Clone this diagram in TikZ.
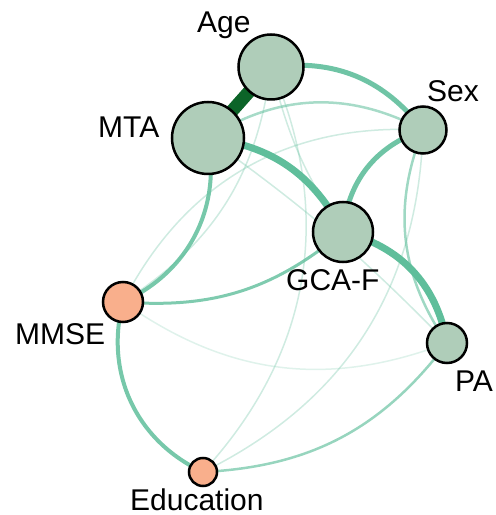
\documentclass[tikz,border=0pt]{standalone}
\usepackage{fontspec}
\setmainfont{Liberation Sans}
\usetikzlibrary{backgrounds}
\definecolor{edgeG}{RGB}{95,190,155}
\definecolor{darkG}{RGB}{12,100,40}
\definecolor{nodeG}{RGB}{175,205,185}
\definecolor{nodeO}{RGB}{249,175,140}
\tikzset{
  varnode/.style={circle, draw=black, line width=2.5pt, inner sep=0pt, fill=nodeG},
  ornode/.style={varnode, fill=nodeO},
  lbl/.style={anchor=base west, inner sep=0pt, font=\fontsize{30}{36}\selectfont},
  edge/.style={draw=edgeG, line cap=round},
  faint/.style={edge, line width=1.5pt, draw opacity=0.3},
}
\begin{document}
\begin{tikzpicture}[x=1pt, y=1pt]
\useasboundingbox (0,0) rectangle (496,515);
% nodes
\node[varnode, minimum size=65pt] (Age) at (271,448) {};
\node[varnode, minimum size=72pt] (MTA) at (208,377) {};
\node[varnode, minimum size=47pt] (Sex) at (423,385) {};
\node[varnode, minimum size=60pt] (GCAF) at (343,283) {};
\node[ornode, minimum size=40pt] (MMSE) at (123,213) {};
\node[varnode, minimum size=40pt] (PA) at (447,172) {};
\node[ornode, minimum size=28pt] (Educ) at (203,43) {};
% edges behind nodes
\begin{scope}[on background layer]
\path[faint] (Age.center) to[bend right=10] (GCAF.center);
\path[faint] (Age.center) to[bend left=25] (MMSE.center);
\path[faint] (Age.center) to[bend left=33] (Educ.center);
\path[faint] (Sex.center) to[bend left=31] (Educ.center);
\path[faint] (Sex.center) to[bend right=33] (MMSE.center);
\path[faint] (MTA.center) to[bend left=5] (PA.center);
\path[faint, draw opacity=0.2] (MMSE.center) to[bend right=28] (PA.center);
\path[edge, line width=2.5pt, draw opacity=0.55] (MTA.center) to[bend left=30] (Sex.center);
\path[edge, line width=2.5pt, draw opacity=0.6] (Sex.center) to[bend right=28] (PA.center);
\path[edge, line width=2.5pt, draw opacity=0.65] (Educ.center) to[bend right=25] (PA.center);
\path[edge, line width=3pt, draw opacity=0.8] (MMSE.center) to[bend right=22] (GCAF.center);
\path[edge, line width=4pt, draw opacity=0.85] (MTA.center) to[bend left=38] (MMSE.center);
\path[edge, line width=4pt, draw opacity=0.85] (MMSE.center) to[bend right=40] (Educ.center);
\path[edge, line width=5pt, draw opacity=0.9] (Age.center) to[bend left=30] (Sex.center);
\path[edge, line width=5pt, draw opacity=0.9] (Sex.center) to[bend right=33] (GCAF.center);
\path[edge, line width=7pt] (MTA.center) to[bend left=28] (GCAF.center);
\path[edge, line width=7pt] (GCAF.center) to[bend left=33] (PA.center);
\path[draw=darkG, line width=13pt] (Age.center) -- (MTA.center);
\end{scope}
% labels
\node[lbl] (lAge) at (197,482) {Age};
\node[lbl] (lMTA) at (98,377) {MTA};
\node[lbl] (lSex) at (427,413) {Sex};
\node[lbl] (lGCAF) at (286,224) {GCA-F};
\node[lbl] (lMMSE) at (15,170) {MMSE};
\node[lbl] (lPA) at (455,123) {PA};
\node[lbl] (lEduc) at (130,5) {Education};
\end{tikzpicture}
\end{document}
